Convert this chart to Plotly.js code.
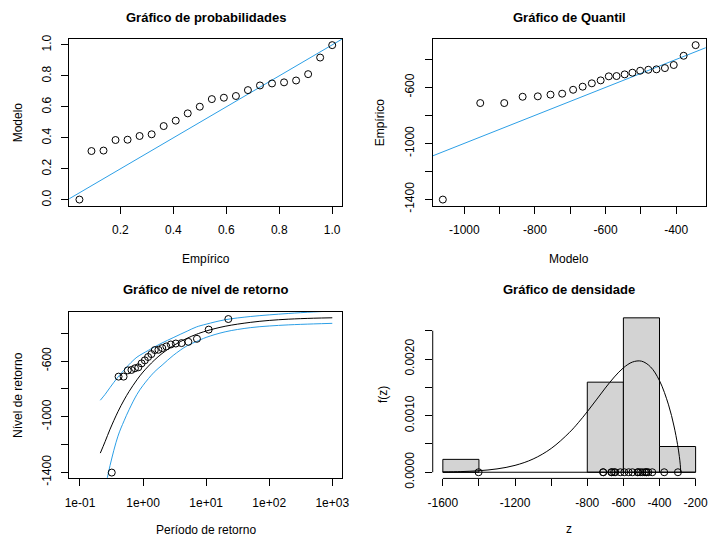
<!DOCTYPE html>
<html>
<head>
<meta charset="utf-8">
<script src="https://cdn.plot.ly/plotly-3.0.1.min.js"></script>
<style>html,body{margin:0;padding:0;background:#fff;}#chart{width:708px;height:537px;}</style>
</head>
<body>
<div id="chart"></div>
<script>
// ---- Data ----
// Panel 1: probability plot
const probEmpirical = [0.0455, 0.0909, 0.1364, 0.1818, 0.2273, 0.2727, 0.3182, 0.3636, 0.4091, 0.4545, 0.5,
  0.5455, 0.5909, 0.6364, 0.6818, 0.7273, 0.7727, 0.8182, 0.8636, 0.9091, 0.9545, 1.0];
const probModel = [0.002, 0.315, 0.318, 0.386, 0.388, 0.412, 0.423, 0.476, 0.511, 0.558, 0.601,
  0.650, 0.659, 0.670, 0.708, 0.738, 0.751, 0.758, 0.770, 0.811, 0.918, 0.998];
// Panel 2: quantile plot (sorted data vs model quantiles)
const qqModel = [-1061, -955, -887, -835, -792, -756, -723, -692, -665, -639, -614,
  -591, -569, -546, -524, -502, -479, -456, -432, -407, -379, -345];
const sortedData = [-1402, -712, -712, -667, -664, -652, -645, -617, -595, -571, -550,
  -521, -519, -507, -495, -481, -474, -471, -462, -440, -374, -298];
// Panel 3: return level plot
const empPeriod = [0.319, 0.409, 0.491, 0.572, 0.655, 0.744, 0.841, 0.947, 1.066, 1.201, 1.356,
  1.537, 1.753, 2.015, 2.340, 2.756, 3.308, 4.080, 5.233, 7.155, 10.99, 22.50];
const curvePeriod = [0.21, 0.25, 0.3, 0.4, 0.5, 0.6, 0.8, 1, 1.5, 2, 3, 5, 7, 10, 20, 50, 100, 200, 500, 1000];
const rlFitted = [-1262, -1180, -1090, -964, -880, -819, -735, -679, -595, -546, -490, -436, -408, -384, -350, -322, -308, -299, -292, -289];
const rlUpper  = [-882, -840, -790, -715, -665, -625, -572, -545, -500, -470, -432, -385, -355, -335, -303, -280, -268, -258, -247, -241];
const rlLower  = [-1700, -1520, -1350, -1140, -1030, -950, -840, -775, -680, -630, -560, -490, -460, -430, -390, -360, -348, -340, -333, -329];
// Panel 4: density plot
const binEdges = [-1600, -1400, -1200, -1000, -800, -600, -400, -200];
const densZ = [-1600, -1500, -1400, -1300, -1200, -1100, -1000, -900, -850, -800, -750, -700, -650, -600,
  -550, -500, -450, -400, -350, -320, -300, -290, -285, -282.4];
const densF = [0.0000047, 0.0000115, 0.0000269, 0.000059, 0.0001214, 0.0002339, 0.000420, 0.000699, 0.000874,
  0.001070, 0.001278, 0.001488, 0.001683, 0.001844, 0.001946, 0.001962, 0.001862, 0.001617, 0.001190,
  0.000817, 0.000489, 0.000275, 0.000132, 0];

// ---- Styling ----
const FONT = '"Liberation Sans", Arial, Helvetica, sans-serif';
const BLUE = '#2C9FE6';
const marker = {symbol: 'circle-open', size: 7, color: '#000', line: {width: 1, color: '#000'}};

const traces = [
  // panel 1
  {x: [-0.1, 1.2], y: [-0.1, 1.2], mode: 'lines', line: {color: BLUE, width: 1}, xaxis: 'x', yaxis: 'y', hoverinfo: 'skip'},
  {x: probEmpirical, y: probModel, mode: 'markers', marker: marker, xaxis: 'x', yaxis: 'y'},
  // panel 2
  {x: [-1200, -200], y: [-1200, -200], mode: 'lines', line: {color: BLUE, width: 1}, xaxis: 'x2', yaxis: 'y2'},
  {x: qqModel, y: sortedData, mode: 'markers', marker: marker, xaxis: 'x2', yaxis: 'y2'},
  // panel 3
  {x: curvePeriod, y: rlFitted, mode: 'lines', line: {color: '#000', width: 1, shape: 'spline'}, xaxis: 'x3', yaxis: 'y3'},
  {x: curvePeriod, y: rlUpper, mode: 'lines', line: {color: BLUE, width: 1, shape: 'spline'}, xaxis: 'x3', yaxis: 'y3'},
  {x: curvePeriod, y: rlLower, mode: 'lines', line: {color: BLUE, width: 1, shape: 'spline'}, xaxis: 'x3', yaxis: 'y3'},
  {x: empPeriod, y: sortedData, mode: 'markers', marker: marker, xaxis: 'x3', yaxis: 'y3'},
  // panel 4
  {type: 'histogram', x: sortedData, histnorm: 'probability density',
   xbins: {start: binEdges[0], end: binEdges[binEdges.length - 1], size: binEdges[1] - binEdges[0]},
   marker: {color: '#D3D3D3', line: {color: '#000', width: 1}}, xaxis: 'x4', yaxis: 'y4'},
  {x: densZ, y: densF, mode: 'lines', line: {color: '#000', width: 1, shape: 'spline'}, xaxis: 'x4', yaxis: 'y4'},
  {x: sortedData, y: sortedData.map(() => 0), mode: 'markers', marker: marker, xaxis: 'x4', yaxis: 'y4'}
];

const tickFont = {family: FONT, size: 12, color: '#000'};
function ax(extra) {
  return Object.assign({
    showgrid: false, zeroline: false, showline: true, mirror: true, linecolor: '#000', linewidth: 1,
    ticks: 'outside', ticklen: 7, tickwidth: 1, tickcolor: '#000', tickfont: tickFont,
    tickmode: 'array', fixedrange: true
  }, extra);
}
const X1 = [0.0979, 0.4835], X2 = [0.6112, 0.9968];
const YT = [0.6169, 0.9274], YB = [0.1091, 0.4196];

function lbl(arr, keep) { return arr.map((v, i) => keep[i] ? String(v) : ''); }

const yTicks = [-1400, -1200, -1000, -800, -600, -400];
const yText = ['-1400', '', '-1000', '', '-600', ''];

const layout = {
  width: 708, height: 537, showlegend: false,
  margin: {l: 0, r: 0, t: 0, b: 0},
  paper_bgcolor: '#fff', plot_bgcolor: '#fff',
  font: {family: FONT, size: 12, color: '#000'},
  bargap: 0,
  xaxis: ax({domain: X1, anchor: 'y', range: [0.0073, 1.0382],
    tickvals: [0.2, 0.4, 0.6, 0.8, 1.0], ticktext: ['0.2', '0.4', '0.6', '0.8', '1.0'], ticklabelstandoff: 6}),
  yaxis: ax({domain: YT, anchor: 'x', range: [-0.0378, 1.0378], tickangle: -90,
    tickvals: [0, 0.2, 0.4, 0.6, 0.8, 1.0], ticktext: ['0.0', '0.2', '0.4', '0.6', '0.8', '1.0'], ticklabelstandoff: 6}),
  xaxis2: ax({domain: X2, anchor: 'y2', range: [-1089.6, -316.4],
    tickvals: [-1000, -900, -800, -700, -600, -500, -400], ticktext: ['-1000', '', '-800', '', '-600', '', '-400'], ticklabelstandoff: 6}),
  yaxis2: ax({domain: YT, anchor: 'x2', range: [-1446, -254], tickangle: -90,
    tickvals: yTicks, ticktext: yText, ticklabelstandoff: 6}),
  xaxis3: ax({domain: X1, anchor: 'y3', type: 'log', range: [-1.169, 3.159],
    tickvals: [0.1, 1, 10, 100, 1000], ticktext: ['1e-01', '1e+00', '1e+01', '1e+02', '1e+03'], ticklabelstandoff: 6}),
  yaxis3: ax({domain: YB, anchor: 'x3', range: [-1444, -245], tickangle: -90,
    tickvals: yTicks, ticktext: yText, ticklabelstandoff: 6}),
  xaxis4: ax({domain: X2, anchor: 'y4', range: [-1656, -144], showline: false, mirror: false,
    tickvals: binEdges, ticktext: ['-1600', '', '-1200', '', '-800', '-600', '-400', '-200'], ticklabelstandoff: 6}),
  yaxis4: ax({domain: YB, anchor: 'x4', range: [-0.000109, 0.002836], showline: false, mirror: false, tickangle: -90,
    tickvals: [0, 0.0005, 0.001, 0.0015, 0.002, 0.0025], ticktext: ['0.0000', '', '0.0010', '', '0.0020', ''], ticklabelstandoff: 6}),
  shapes: [
    {type: 'line', xref: 'x4', yref: 'y4', x0: binEdges[0], x1: binEdges[binEdges.length - 1], y0: 0, y1: 0, line: {color: '#000', width: 1}},
    {type: 'line', xref: 'x4', yref: 'y4 domain', x0: binEdges[0], x1: binEdges[binEdges.length - 1], y0: 0, y1: 0, line: {color: '#000', width: 1}},
    {type: 'line', xref: 'x4 domain', yref: 'y4', x0: 0, x1: 0, y0: 0, y1: 0.0025, line: {color: '#000', width: 1}}
  ],
  annotations: []
};

function ann(text, x, y, opts) {
  layout.annotations.push(Object.assign({text: text, x: x, y: y, xref: 'paper', yref: 'paper',
    showarrow: false, xanchor: 'center', yanchor: 'middle', font: {family: FONT, size: 12, color: '#000'}}, opts || {}));
}
const bold = {font: {family: FONT, size: 13, color: '#000', weight: 'bold'}};
ann('<b>Gráfico de probabilidades</b>', 0.2907, 0.9665, bold);
ann('<b>Gráfico de Quantil</b>', 0.8040, 0.9665, bold);
ann('<b>Gráfico de nível de retorno</b>', 0.2907, 0.4618, bold);
ann('<b>Gráfico de densidade</b>', 0.8040, 0.4618, bold);
ann('Empírico', 0.2907, 0.5168);
ann('Modelo', 0.8040, 0.5168);
ann('Período de retorno', 0.2907, 0.0130);
ann('z', 0.8040, 0.0150);
ann('Modelo', 0.0254, 0.7722, {textangle: -90});
ann('Empírico', 0.5367, 0.7722, {textangle: -90});
ann('Nível de retorno', 0.0254, 0.2644, {textangle: -90});
ann('f(z)', 0.5410, 0.2644, {textangle: -90});

Plotly.newPlot('chart', traces, layout, {displayModeBar: false, staticPlot: true});
</script>
</body>
</html>
